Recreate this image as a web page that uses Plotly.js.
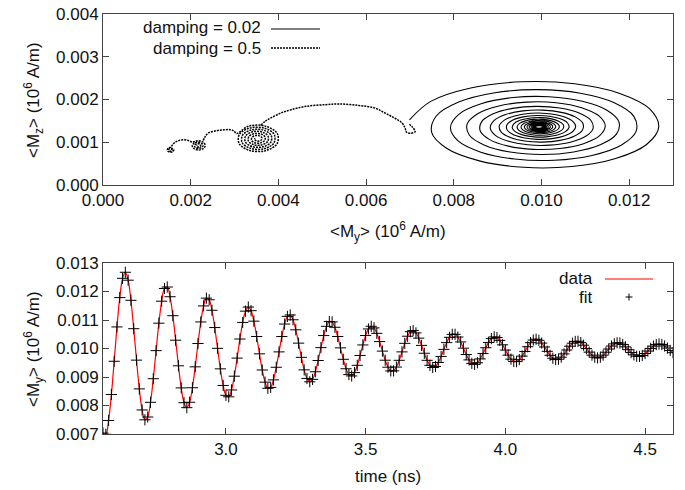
<!DOCTYPE html>
<html>
<head>
<meta charset="utf-8">
<script src="https://cdn.plot.ly/plotly-3.0.1.min.js"></script>
<style>html,body{margin:0;padding:0;background:#fff;}#chart{width:685px;height:490px;}</style>
</head>
<body>
<div id="chart"></div>
<script>
// ---- bottom panel: time axis (ns) ----
const time = [
2.56,2.57,2.58,2.59,2.60,2.61,2.62,2.63,2.64,2.65,
2.66,2.67,2.68,2.69,2.70,2.71,2.72,2.73,2.74,2.75,
2.76,2.77,2.78,2.79,2.80,2.81,2.82,2.83,2.84,2.85,
2.86,2.87,2.88,2.89,2.90,2.91,2.92,2.93,2.94,2.95,
2.96,2.97,2.98,2.99,3.00,3.01,3.02,3.03,3.04,3.05,
3.06,3.07,3.08,3.09,3.10,3.11,3.12,3.13,3.14,3.15,
3.16,3.17,3.18,3.19,3.20,3.21,3.22,3.23,3.24,3.25,
3.26,3.27,3.28,3.29,3.30,3.31,3.32,3.33,3.34,3.35,
3.36,3.37,3.38,3.39,3.40,3.41,3.42,3.43,3.44,3.45,
3.46,3.47,3.48,3.49,3.50,3.51,3.52,3.53,3.54,3.55,
3.56,3.57,3.58,3.59,3.60,3.61,3.62,3.63,3.64,3.65,
3.66,3.67,3.68,3.69,3.70,3.71,3.72,3.73,3.74,3.75,
3.76,3.77,3.78,3.79,3.80,3.81,3.82,3.83,3.84,3.85,
3.86,3.87,3.88,3.89,3.90,3.91,3.92,3.93,3.94,3.95,
3.96,3.97,3.98,3.99,4.00,4.01,4.02,4.03,4.04,4.05,
4.06,4.07,4.08,4.09,4.10,4.11,4.12,4.13,4.14,4.15,
4.16,4.17,4.18,4.19,4.20,4.21,4.22,4.23,4.24,4.25,
4.26,4.27,4.28,4.29,4.30,4.31,4.32,4.33,4.34,4.35,
4.36,4.37,4.38,4.39,4.40,4.41,4.42,4.43,4.44,4.45,
4.46,4.47,4.48,4.49,4.50,4.51,4.52,4.53,4.54,4.55,
4.56,4.57,4.58,4.59,4.60];

// <My> (10^6 A/m), damping = 0.02 (data, also drawn with the fit markers)
const myData = [
0.007032,0.006990,0.007475,0.008386,0.009552,0.010757,0.011786,0.012463,0.012675,0.012397,
0.011691,0.010695,0.009592,0.008583,0.007844,0.007498,0.007597,0.008112,0.008940,0.009925,
0.010888,0.011660,0.012107,0.012158,0.011816,0.011151,0.010291,0.009393,0.008618,0.008099,
0.007924,0.008114,0.008624,0.009357,0.010175,0.010932,0.011494,0.011767,0.011710,0.011341,
0.010735,0.010006,0.009286,0.008703,0.008357,0.008304,0.008545,0.009028,0.009663,0.010332,
0.010915,0.011311,0.011455,0.011327,0.010959,0.010420,0.009813,0.009246,0.008819,0.008604,
0.008634,0.008899,0.009341,0.009881,0.010419,0.010858,0.011126,0.011176,0.011008,0.010656,
0.010188,0.009690,0.009251,0.008949,0.008832,0.008917,0.009183,0.009579,0.010030,0.010454,
0.010778,0.010946,0.010933,0.010745,0.010421,0.010022,0.009621,0.009289,0.009083,0.009037,
0.009154,0.009410,0.009755,0.010125,0.010455,0.010686,0.010780,0.010724,0.010532,0.010242,
0.009908,0.009589,0.009344,0.009213,0.009216,0.009349,0.009586,0.009881,0.010181,0.010431,
0.010590,0.010629,0.010548,0.010363,0.010109,0.009833,0.009586,0.009409,0.009334,0.009370,
0.009508,0.009721,0.009969,0.010207,0.010393,0.010496,0.010498,0.010403,0.010230,0.010012,
0.009789,0.009600,0.009479,0.009444,0.009500,0.009635,0.009822,0.010027,0.010212,0.010347,
0.010406,0.010384,0.010285,0.010129,0.009945,0.009767,0.009626,0.009547,0.009541,0.009608,
0.009734,0.009895,0.010062,0.010203,0.010297,0.010326,0.010288,0.010190,0.010053,0.009901,
0.009761,0.009659,0.009612,0.009625,0.009696,0.009810,0.009947,0.010080,0.010186,0.010247,
0.010254,0.010207,0.010116,0.009997,0.009873,0.009766,0.009695,0.009670,0.009696,0.009767,
0.009868,0.009981,0.010086,0.010163,0.010201,0.010193,0.010142,0.010058,0.009958,0.009858,
0.009778,0.009730,0.009722,0.009756,0.009823,0.009910,0.010003,0.010083,0.010138,0.010158,
0.010140,0.010089,0.010015,0.009931,0.009853];

// ---- top panel: <Mz> of the damping = 0.02 trajectory (same samples as myData from t = 2.57 ns) ----
const mzDamp002 = [
0.001525,0.001956,0.002270,0.002414,0.002367,0.002142,0.001784,0.001360,0.000947,
0.000619,0.000432,0.000414,0.000565,0.000853,0.001223,0.001608,0.001939,0.002158,0.002230,
0.002145,0.001922,0.001606,0.001255,0.000931,0.000692,0.000579,0.000607,0.000768,0.001030,
0.001344,0.001652,0.001900,0.002046,0.002065,0.001959,0.001750,0.001476,0.001189,0.000940,
0.000773,0.000714,0.000771,0.000932,0.001164,0.001425,0.001668,0.001849,0.001938,0.001924,
0.001808,0.001616,0.001384,0.001154,0.000967,0.000854,0.000834,0.000909,0.001062,0.001263,
0.001477,0.001664,0.001792,0.001840,0.001801,0.001685,0.001515,0.001321,0.001140,0.001002,
0.000932,0.000940,0.001021,0.001162,0.001334,0.001505,0.001647,0.001734,0.001752,0.001699,
0.001588,0.001440,0.001281,0.001140,0.001043,0.001004,0.001029,0.001113,0.001238,0.001382,
0.001518,0.001622,0.001677,0.001674,0.001616,0.001513,0.001386,0.001258,0.001151,0.001084,
0.001068,0.001105,0.001185,0.001295,0.001413,0.001519,0.001593,0.001625,0.001608,0.001548,
0.001456,0.001349,0.001248,0.001168,0.001125,0.001125,0.001167,0.001242,0.001336,0.001431,
0.001512,0.001563,0.001577,0.001552,0.001493,0.001413,0.001325,0.001246,0.001189,0.001163,
0.001174,0.001218,0.001285,0.001364,0.001440,0.001500,0.001534,0.001535,0.001506,0.001451,
0.001382,0.001310,0.001250,0.001210,0.001199,0.001216,0.001258,0.001318,0.001383,0.001442,
0.001486,0.001506,0.001499,0.001468,0.001418,0.001360,0.001303,0.001258,0.001232,0.001229,
0.001250,0.001290,0.001341,0.001394,0.001440,0.001470,0.001480,0.001468,0.001438,0.001394,
0.001345,0.001301,0.001268,0.001252,0.001256,0.001279,0.001314,0.001358,0.001400,0.001435,
0.001455,0.001457,0.001443,0.001414,0.001376,0.001336,0.001302,0.001279,0.001271,0.001279,
0.001301,0.001333,0.001369,0.001402,0.001427,0.001440,0.001438,0.001422,0.001395,0.001363,
0.001331,0.001306,0.001290,0.001287,0.001298];

// innermost turns of the damping = 0.02 spiral (after t = 4.60 ns)
const myTail = [
0.009814,0.009762,0.009821,0.009950,0.010073,0.010120,0.010067,0.009950,
0.009838,0.009796,0.009844,0.009950,0.010051,0.010090,0.010046,0.009950,
0.009858,0.009824,0.009863,0.009950,0.010033,0.010064,0.010029,0.009950,
0.009875,0.009846,0.009879,0.009950,0.010018,0.010044,0.010015,0.009950,
0.009888,0.009865,0.009891,0.009950,0.010006,0.010027,0.010003,0.009950];
const mzTail = [
0.001310,0.001360,0.001408,0.001426,0.001406,0.001360,0.001317,0.001300,
0.001319,0.001360,0.001399,0.001414,0.001397,0.001360,0.001324,0.001311,
0.001326,0.001360,0.001392,0.001405,0.001391,0.001360,0.001331,0.001320,
0.001332,0.001360,0.001386,0.001396,0.001385,0.001360,0.001336,0.001327,
0.001337,0.001360,0.001382,0.001390,0.001381,0.001360,0.001340,0.001333];

// damping = 0.5 trajectory (<My>, <Mz>), pieces separated by null
const myDamp05 = [
0.001550,0.001567,0.001579,0.001573,0.001550,0.001520,0.001504,0.001514,0.001550,0.001592,0.001614,0.001598,0.001550,0.001495,0.001468,0.001489,0.001550,
0.001600,0.001680,0.001790,0.001930,
0.002043,0.002170,0.002288,0.002331,0.002279,0.002170,0.002070,0.002035,0.002079,0.002170,0.002252,0.002279,0.002242,0.002170,0.002107,0.002087,0.002116,0.002170,0.002215,0.002227,0.002206,0.002170,0.002143,0.002139,0.002152,
null,
0.002285,0.002330,0.002400,0.002580,0.002770,0.002900,0.002990,
0.003043,0.003328,0.003715,0.003977,0.003968,0.003704,0.003346,0.003105,
0.003113,0.003357,0.003685,0.003906,0.003897,0.003674,0.003375,0.003175,
0.003184,0.003386,0.003656,0.003835,0.003826,0.003645,0.003405,0.003246,
0.003255,0.003416,0.003627,0.003764,0.003756,0.003616,0.003434,0.003317,
0.003326,0.003445,0.003597,0.003694,0.003685,0.003586,0.003463,0.003388,
0.003397,0.003474,0.003568,0.003623,0.003614,0.003557,0.003493,0.003459,
0.003467,
null,
0.003600,0.003700,0.003830,0.004060,0.004290,0.004630,0.005080,0.005390,0.005840,0.006200,0.006420,0.006640,0.006820,0.006890,0.006920,0.007010,0.007120,0.007060,0.006990];
const mzDamp05 = [
0.000835,0.000833,0.000820,0.000802,0.000791,0.000797,0.000820,0.000847,0.000862,0.000852,0.000820,0.000783,0.000764,0.000778,0.000820,0.000867,0.000890,
0.000960,0.001020,0.001055,0.001045,
0.001005,0.001036,0.000999,0.000920,0.000847,0.000821,0.000853,0.000920,0.000981,0.001001,0.000975,0.000920,0.000872,0.000856,0.000878,0.000920,0.000956,0.000967,0.000950,0.000920,0.000896,0.000890,0.000902,0.000920,0.000932,
null,
0.001040,0.001130,0.001214,0.001268,0.001290,0.001295,0.001260,
0.001206,0.001379,0.001374,0.001199,0.000963,0.000803,0.000809,0.000970,
0.001188,0.001334,0.001329,0.001181,0.000982,0.000848,0.000854,0.000989,
0.001169,0.001289,0.001284,0.001162,0.001000,0.000893,0.000899,0.001007,
0.001150,0.001244,0.001239,0.001143,0.001019,0.000938,0.000944,0.001026,
0.001132,0.001200,0.001194,0.001125,0.001038,0.000983,0.000989,0.001044,
0.001113,0.001155,0.001149,0.001106,0.001056,0.001028,0.001034,0.001063,
0.001095,
null,
0.001400,0.001490,0.001570,0.001685,0.001760,0.001840,0.001880,0.001895,0.001860,0.001800,0.001690,0.001570,0.001450,0.001330,0.001240,0.001210,0.001250,0.001350,0.001420];

// ---- tick labels ----
const topXTicks = [0, 0.002, 0.004, 0.006, 0.008, 0.010, 0.012];
const topYTicks = [0, 0.001, 0.002, 0.003, 0.004];
const botXTicks = [3.0, 3.5, 4.0, 4.5];
const botYTicks = [0.007, 0.008, 0.009, 0.010, 0.011, 0.012, 0.013];

const FONT = '"Liberation Sans", Arial, Helvetica, sans-serif';
const DOTS = '2px,1px';

const traces = [
  {x: myData.slice(1).concat(myTail), y: mzDamp002.concat(mzTail), xaxis:'x', yaxis:'y',
   type:'scatter', mode:'lines', name:'damping = 0.02',
   line:{color:'#000', width:1.1, shape:'spline', smoothing:1}, hoverinfo:'skip'},
  {x: myDamp05, y: mzDamp05, xaxis:'x', yaxis:'y',
   type:'scatter', mode:'lines', name:'damping = 0.5', connectgaps:false,
   line:{color:'#000', width:1.5, dash:DOTS, shape:'spline', smoothing:1}, hoverinfo:'skip'},
  {x: time, y: myData, xaxis:'x2', yaxis:'y2',
   type:'scatter', mode:'lines', name:'data',
   line:{color:'#ff0000', width:1.2, shape:'spline', smoothing:1}, hoverinfo:'skip'},
  {x: time, y: myData, xaxis:'x2', yaxis:'y2',
   type:'scatter', mode:'markers', name:'fit',
   marker:{symbol:'cross-thin-open', size:8, color:'#000', line:{color:'#000', width:1}}, hoverinfo:'skip'}
];

const axisBase = {
  ticks:'inside', ticklen:6, tickwidth:1, tickcolor:'#444',
  showline:true, linecolor:'#444', linewidth:1, mirror:'allticks',
  showgrid:false, zeroline:false,
  tickfont:{family:FONT, size:17, color:'#111'}
};

// paper-coordinate helpers (plot area: 570 x 420 px)
const L = 103, T = 14, W = 570, H = 420;
const px = v => (v - L) / W;
const py = v => (T + H - v) / H;

const ann = (text, x, y, opts) => Object.assign({
  text, x, y, xref:'paper', yref:'paper', showarrow:false,
  xanchor:'center', yanchor:'middle', font:{family:FONT, size:17, color:'#111'}
}, opts || {});

const layout = {
  width:685, height:490,
  margin:{l:L, r:685 - L - W, t:T, b:490 - T - H, pad:0},
  paper_bgcolor:'#fff', plot_bgcolor:'#fff',
  showlegend:false,
  font:{family:FONT, size:17, color:'#111'},
  xaxis: Object.assign({}, axisBase, {domain:[0,1], anchor:'y', range:[0,0.013],
    tickmode:'array', tickvals:topXTicks, ticktext:topXTicks.map(v=>v.toFixed(3))}),
  yaxis: Object.assign({}, axisBase, {domain:[py(185),1], anchor:'x', range:[0,0.004],
    tickmode:'array', tickvals:topYTicks, ticktext:topYTicks.map(v=>v.toFixed(3))}),
  xaxis2: Object.assign({}, axisBase, {domain:[0,1], anchor:'y2', range:[2.56,4.6],
    tickmode:'array', tickvals:botXTicks, ticktext:botXTicks.map(v=>v.toFixed(1))}),
  yaxis2: Object.assign({}, axisBase, {domain:[0,py(263)], anchor:'x2', range:[0.007,0.013],
    tickmode:'array', tickvals:botYTicks, ticktext:botYTicks.map(v=>v.toFixed(3))}),
  annotations:[
    ann('&lt;M<sub>z</sub>&gt; (10<sup>6</sup> A/m)', px(33), py(100), {textangle:-90}),
    ann('&lt;M<sub>y</sub>&gt; (10<sup>6</sup> A/m)', 0.5, py(232)),
    ann('&lt;M<sub>y</sub>&gt; (10<sup>6</sup> A/m)', px(33), py(349), {textangle:-90}),
    ann('time (ns)', 0.5, py(476)),
    ann('damping = 0.02', px(262), py(28), {xanchor:'right', borderpad:0}),
    ann('damping = 0.5', px(262), py(48), {xanchor:'right', borderpad:0}),
    ann('data', px(594), py(278), {xanchor:'right', borderpad:0}),
    ann('fit', px(594), py(297), {xanchor:'right', borderpad:0})
  ],
  shapes:[
    {type:'line', xref:'paper', yref:'paper', x0:px(271), x1:px(320), y0:py(29), y1:py(29), line:{color:'#000', width:1.1}},
    {type:'line', xref:'paper', yref:'paper', x0:px(271), x1:px(320), y0:py(48), y1:py(48), line:{color:'#000', width:1.3, dash:DOTS}},
    {type:'line', xref:'paper', yref:'paper', x0:px(605), x1:px(653), y0:py(279), y1:py(279), line:{color:'#ff0000', width:1.2}},
    {type:'line', xref:'paper', yref:'paper', x0:px(625.5), x1:px(632.5), y0:py(297), y1:py(297), line:{color:'#000', width:1}},
    {type:'line', xref:'paper', yref:'paper', x0:px(629), x1:px(629), y0:py(293.5), y1:py(300.5), line:{color:'#000', width:1}}
  ]
};

Plotly.newPlot('chart', traces, layout, {displayModeBar:false, staticPlot:true});
</script>
</body>
</html>
